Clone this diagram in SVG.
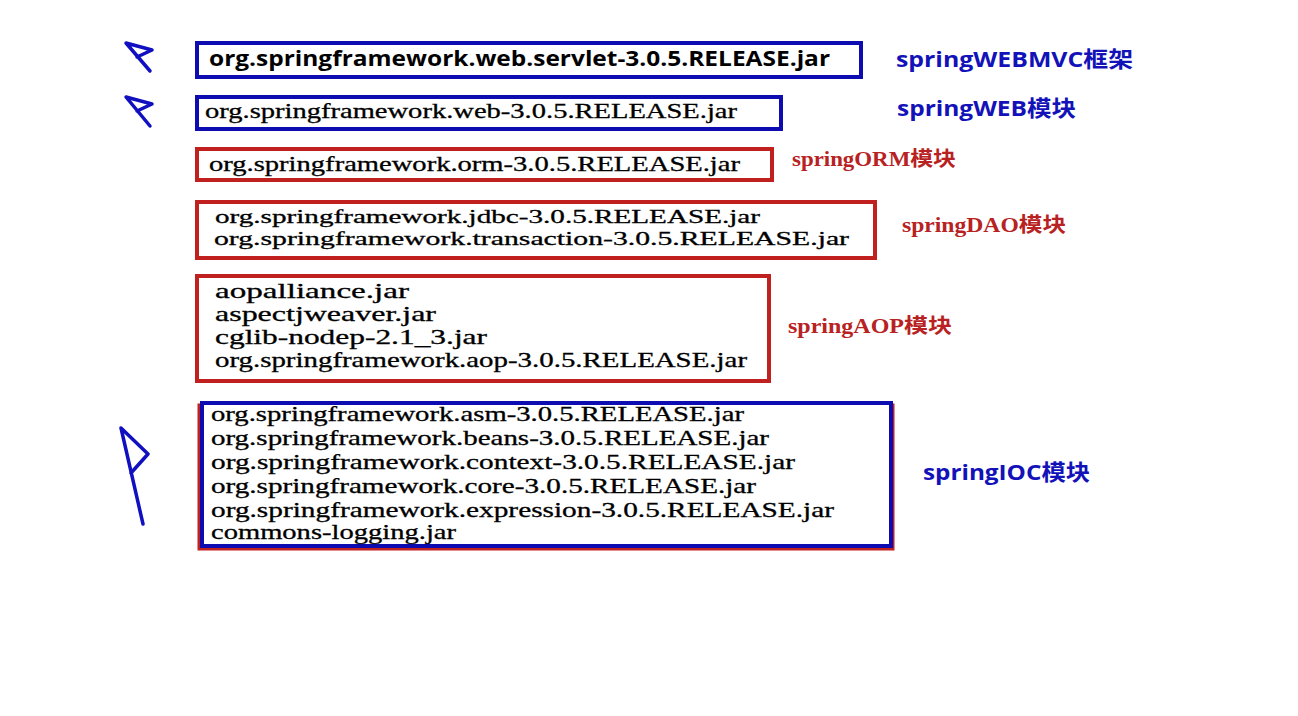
<svg xmlns="http://www.w3.org/2000/svg" width="1298" height="716" viewBox="0 0 1298 716">
<style>
.bx{fill:#fff;stroke-width:4}
.blue{stroke:#0c0cb0}
.red{stroke:#c0201e}
.mono{font-family:"Liberation Serif","DejaVu Serif",serif;font-size:21px;fill:#000;stroke:#000;stroke-width:0.3}
.sm{font-size:19px}
.sansb{font-family:"Open Sans","Liberation Sans","Noto Sans CJK SC",sans-serif;font-weight:bold;fill:#000}
.lblb{font-family:"Open Sans","Liberation Sans","Noto Sans CJK SC",sans-serif;font-weight:bold;font-size:22px;fill:#1212b8}
.lblr{font-family:"Liberation Serif","Noto Sans CJK SC",serif;font-weight:bold;font-size:20px;fill:#b82222}
.flag{fill:none;stroke:#1010c0;stroke-width:3.5;stroke-linejoin:round;stroke-linecap:round}
</style>
<rect width="1298" height="716" fill="#fff"/>
<g id="flags">
<path class="flag" d="M150,71 L126,43 L152,50 L137,57"/>
<path class="flag" d="M150,126 L126,97 L152,104 L137,111"/>
<path class="flag" d="M143,524 L121,428 L148,454 L131,473"/>
</g>
<g id="webmvc">
<rect class="bx blue" x="197" y="43" width="664" height="34"/>
<text class="sansb" x="209" y="66" font-size="22" textLength="621" lengthAdjust="spacingAndGlyphs">org.springframework.web.servlet-3.0.5.RELEASE.jar</text>
<text class="lblb" x="896" y="67" textLength="237" lengthAdjust="spacingAndGlyphs">springWEBMVC框架</text>
</g>
<g id="web">
<rect class="bx blue" x="197" y="97" width="584" height="32"/>
<text class="mono" x="205" y="118" textLength="532" lengthAdjust="spacingAndGlyphs">org.springframework.web-3.0.5.RELEASE.jar</text>
<text class="lblb" x="897" y="116" textLength="179" lengthAdjust="spacingAndGlyphs">springWEB模块</text>
</g>
<g id="orm">
<rect class="bx red" x="197" y="149" width="575" height="31"/>
<text class="mono" x="209" y="171" textLength="531" lengthAdjust="spacingAndGlyphs">org.springframework.orm-3.0.5.RELEASE.jar</text>
<text class="lblr" x="792" y="166" textLength="164" lengthAdjust="spacingAndGlyphs">springORM模块</text>
</g>
<g id="dao">
<rect class="bx red" x="197" y="202" width="678" height="56"/>
<text class="mono sm" x="215" y="223" textLength="545" lengthAdjust="spacingAndGlyphs">org.springframework.jdbc-3.0.5.RELEASE.jar</text>
<text class="mono sm" x="214" y="245" textLength="635" lengthAdjust="spacingAndGlyphs">org.springframework.transaction-3.0.5.RELEASE.jar</text>
<text class="lblr" x="902" y="232" textLength="164" lengthAdjust="spacingAndGlyphs">springDAO模块</text>
</g>
<g id="aop">
<rect class="bx red" x="197" y="276" width="572" height="105"/>
<text class="mono" x="215" y="298" textLength="194" lengthAdjust="spacingAndGlyphs">aopalliance.jar</text>
<text class="mono" x="215" y="321" textLength="221" lengthAdjust="spacingAndGlyphs">aspectjweaver.jar</text>
<text class="mono" x="215" y="344" textLength="272" lengthAdjust="spacingAndGlyphs">cglib-nodep-2.1_3.jar</text>
<text class="mono" x="215" y="367" textLength="532" lengthAdjust="spacingAndGlyphs">org.springframework.aop-3.0.5.RELEASE.jar</text>
<text class="lblr" x="788" y="333" textLength="164" lengthAdjust="spacingAndGlyphs">springAOP模块</text>
</g>
<g id="ioc">
<rect x="199" y="405" width="694" height="144" fill="none" stroke="#c0201e" stroke-width="3"/>
<rect class="bx blue" x="202" y="403" width="689" height="143"/>
<text class="mono" x="211" y="421" textLength="533" lengthAdjust="spacingAndGlyphs">org.springframework.asm-3.0.5.RELEASE.jar</text>
<text class="mono" x="211" y="445" textLength="558" lengthAdjust="spacingAndGlyphs">org.springframework.beans-3.0.5.RELEASE.jar</text>
<text class="mono" x="211" y="469" textLength="584" lengthAdjust="spacingAndGlyphs">org.springframework.context-3.0.5.RELEASE.jar</text>
<text class="mono" x="211" y="493" textLength="545" lengthAdjust="spacingAndGlyphs">org.springframework.core-3.0.5.RELEASE.jar</text>
<text class="mono" x="211" y="517" textLength="623" lengthAdjust="spacingAndGlyphs">org.springframework.expression-3.0.5.RELEASE.jar</text>
<text class="mono" x="211" y="539" textLength="245" lengthAdjust="spacingAndGlyphs">commons-logging.jar</text>
<text class="lblb" x="923" y="480" textLength="167" lengthAdjust="spacingAndGlyphs">springIOC模块</text>
</g>
</svg>
